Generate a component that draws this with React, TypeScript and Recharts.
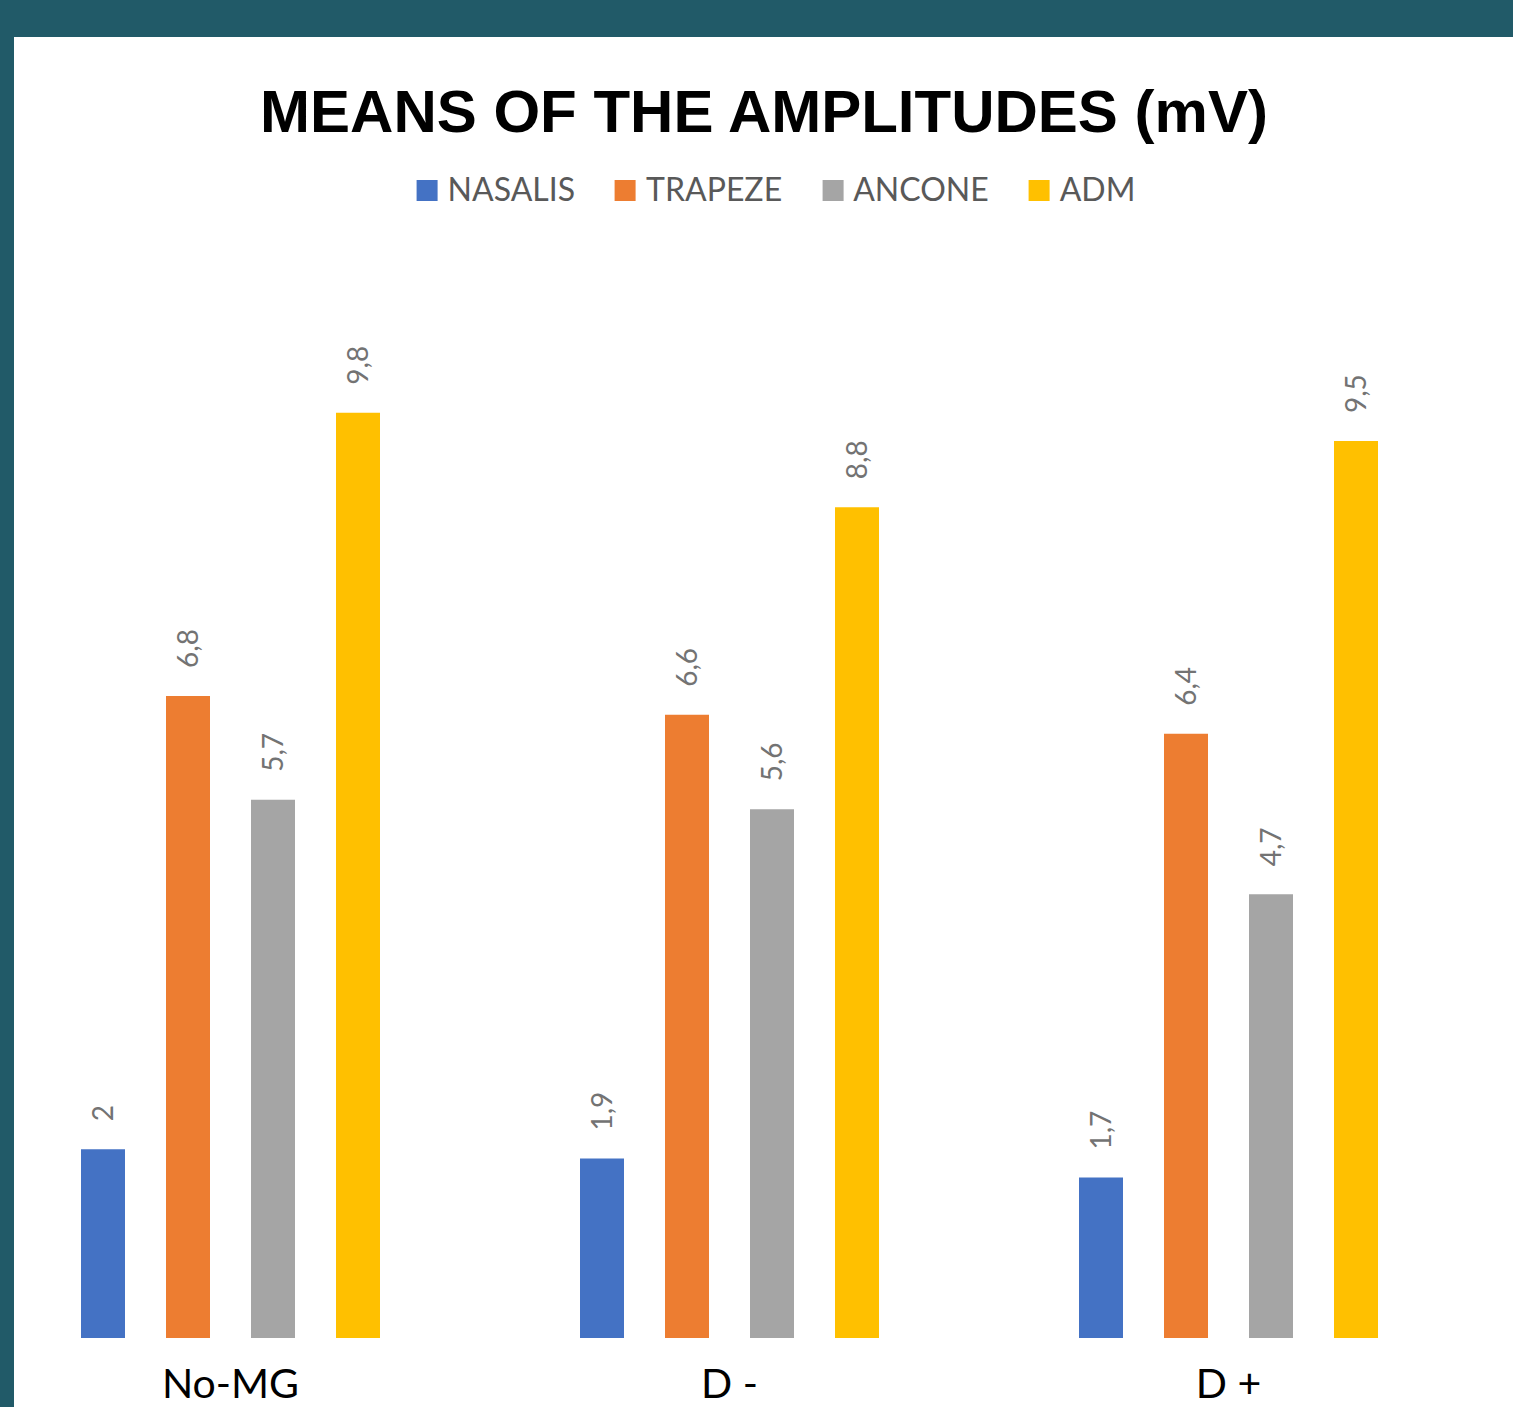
import { BarChart, Bar, XAxis, YAxis, LabelList } from "recharts";

const CATEGORIES = ["No-MG", "D -", "D +"];
const NASALIS = [2, 1.9, 1.7];
const TRAPEZE = [6.8, 6.6, 6.4];
const ANCONE = [5.7, 5.6, 4.7];
const ADM = [9.8, 8.8, 9.5];

const SERIES = [
  { key: "nasalis", name: "NASALIS", color: "#4472C4" },
  { key: "trapeze", name: "TRAPEZE", color: "#ED7D31" },
  { key: "ancone", name: "ANCONE", color: "#A5A5A5" },
  { key: "adm", name: "ADM", color: "#FFC000" },
];

const data = CATEGORIES.map((name, i) => ({
  name,
  nasalis: NASALIS[i],
  trapeze: TRAPEZE[i],
  ancone: ANCONE[i],
  adm: ADM[i],
}));

const fmt = (v: number) => String(v).replace(".", ",");

// rotated value label sitting above each bar
function ValueLabel(props: any) {
  const { x, y, width, value } = props;
  const cx = x + width / 2 + 10;
  const cy = y - 28;
  return (
    <text
      x={cx}
      y={cy}
      transform={`rotate(-90 ${cx} ${cy})`}
      textAnchor="start"
      fill="#737373"
      fontSize={28}
      fontFamily="Lato, 'Noto Sans', sans-serif"
    >
      {fmt(value)}
    </text>
  );
}

function CategoryTick(props: any) {
  const { x, y, payload } = props;
  return (
    <text x={x} y={y + 60} textAnchor="middle" fill="#000" fontSize={41} fontFamily="Lato, 'Noto Sans', sans-serif">
      {payload.value}
    </text>
  );
}

export default function App() {
  return (
    <div style={{ position: "absolute", left: 0, top: 0, width: 1513, height: 1407, background: "#215a68" }}>
      <div style={{ position: "absolute", left: 14, top: 37, width: 1499, height: 1370, background: "#fff", overflow: "hidden" }}>
        <svg width={1499} height={120} style={{ position: "absolute", left: 0, top: 0 }}>
          <text x={750} y={95} textAnchor="middle" fontSize={60} fontWeight="bold" fontFamily="'Liberation Sans', Arial, sans-serif" fill="#000">
            MEANS OF THE AMPLITUDES (mV)
          </text>
        </svg>

        {/* legend */}
        <div
          style={{
            position: "absolute",
            left: 762,
            top: 132,
            transform: "translateX(-50%)",
            display: "flex",
            gap: 40,
            whiteSpace: "nowrap",
            fontFamily: "Lato, 'Noto Sans', sans-serif",
            fontSize: 32,
            color: "#595959",
            lineHeight: "40px",
          }}
        >
          {SERIES.map((s) => (
            <div key={s.key} style={{ display: "flex", alignItems: "center", gap: 10 }}>
              <div style={{ width: 21, height: 21, background: s.color, marginTop: 2 }} />
              <span>{s.name}</span>
            </div>
          ))}
        </div>

        <div style={{ position: "absolute", left: -33, top: 168 }}>
          <BarChart width={1497} height={1203} data={data} margin={{ top: 0, right: 0, bottom: 0, left: 0 }} barSize={44} barGap={41}>
            <XAxis dataKey="name" axisLine={false} tickLine={false} tickSize={0} tickMargin={0} height={70} tick={<CategoryTick />} interval={0} />
            <YAxis hide domain={[0, 12]} />
            {SERIES.map((s) => (
              <Bar key={s.key} dataKey={s.key} name={s.name} fill={s.color} isAnimationActive={false}>
                <LabelList dataKey={s.key} content={<ValueLabel />} />
              </Bar>
            ))}
          </BarChart>
        </div>
      </div>
    </div>
  );
}
